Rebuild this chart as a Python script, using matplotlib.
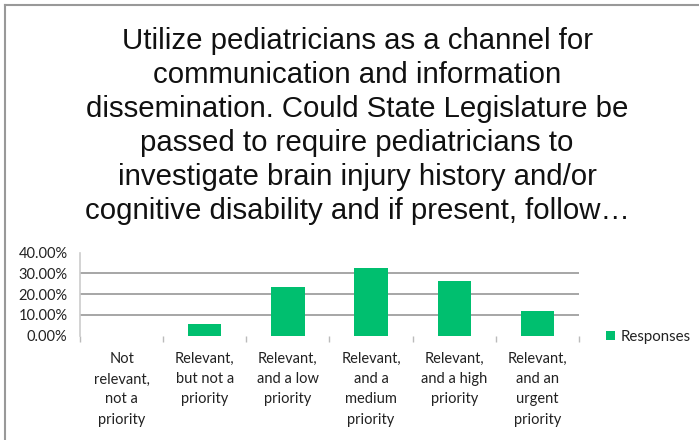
import matplotlib
matplotlib.use("Agg")
import matplotlib.pyplot as plt
from matplotlib.lines import Line2D

title = ("Utilize pediatricians as a channel for\ncommunication and information\n"
         "dissemination. Could State Legislature be\npassed to require pediatricians to\n"
         "investigate brain injury history and/or\ncognitive disability and if present, follow\u2026")
categories = ["Not\nrelevant,\nnot a\npriority", "Relevant,\nbut not a\npriority",
              "Relevant,\nand a low\npriority", "Relevant,\nand a\nmedium\npriority",
              "Relevant,\nand a high\npriority", "Relevant,\nand an\nurgent\npriority"]
values = [0.0, 5.6, 23.6, 32.7, 26.4, 11.7]
yticks = [0, 10, 20, 30, 40]
series_name = "Responses"
green = "#00BF6F"

W, H = 699, 440
fig = plt.figure(figsize=(W / 100, H / 100), dpi=100)

# border (top and left)
fig.add_artist(Line2D([5 / W, 5 / W], [0, 1 - 5 / H], transform=fig.transFigure, color="#999999", lw=1.5))
fig.add_artist(Line2D([5 / W, 1], [1 - 5 / H, 1 - 5 / H], transform=fig.transFigure, color="#999999", lw=1.5))

fig.text(357 / W, 1 - 27 / H, title, ha="center", va="top", fontsize=21.2,
         family="Liberation Sans", linespacing=1.275, color="#111111")

left, right = 80 / W, 579 / W
bottom, top = 1 - 335.7 / H, 1 - 252.6 / H
ax = fig.add_axes([left, bottom, right - left, top - bottom])
x = list(range(len(categories)))
ax.bar(x, values, width=0.4, color=green, label=series_name, zorder=3)
ax.set_xlim(-0.5, len(categories) - 0.5)
ax.set_ylim(0, 40)
ax.set_yticks(yticks)
ax.set_yticklabels([f"{v:.2f}%" for v in yticks], family="Lato", fontsize=10.5, color="#222222")
for v in yticks[1:-1]:
    ax.axhline(v, color="#a6a6a6", lw=1.4, zorder=1)
ax.tick_params(axis="y", length=0, pad=9)
ax.set_xticks([i + 0.5 for i in range(-1, len(categories))], minor=False)
ax.set_xticklabels([])
ax.tick_params(axis="x", length=4, color="#bbbbbb", width=1)
ax.set_xticks(x, minor=True)
ax.set_xticklabels(categories, minor=True, family="Lato", fontsize=10.5, color="#222222", linespacing=1.55)
ax.tick_params(axis="x", which="minor", length=0, pad=12)
for s in ["top", "right", "bottom"]:
    ax.spines[s].set_visible(False)
ax.spines["left"].set_color("#cccccc")
ax.spines["left"].set_linewidth(1.2)

leg = fig.legend(loc="center left", bbox_to_anchor=(606 / W, 1 - 337 / H), frameon=False,
                 prop={"family": "Lato", "size": 10.8}, handlelength=0.6, handleheight=0.6,
                 handletextpad=0.4, borderaxespad=0, borderpad=0)
for t in leg.get_texts():
    t.set_color("#222222")

fig.savefig("out.png", dpi=100)
